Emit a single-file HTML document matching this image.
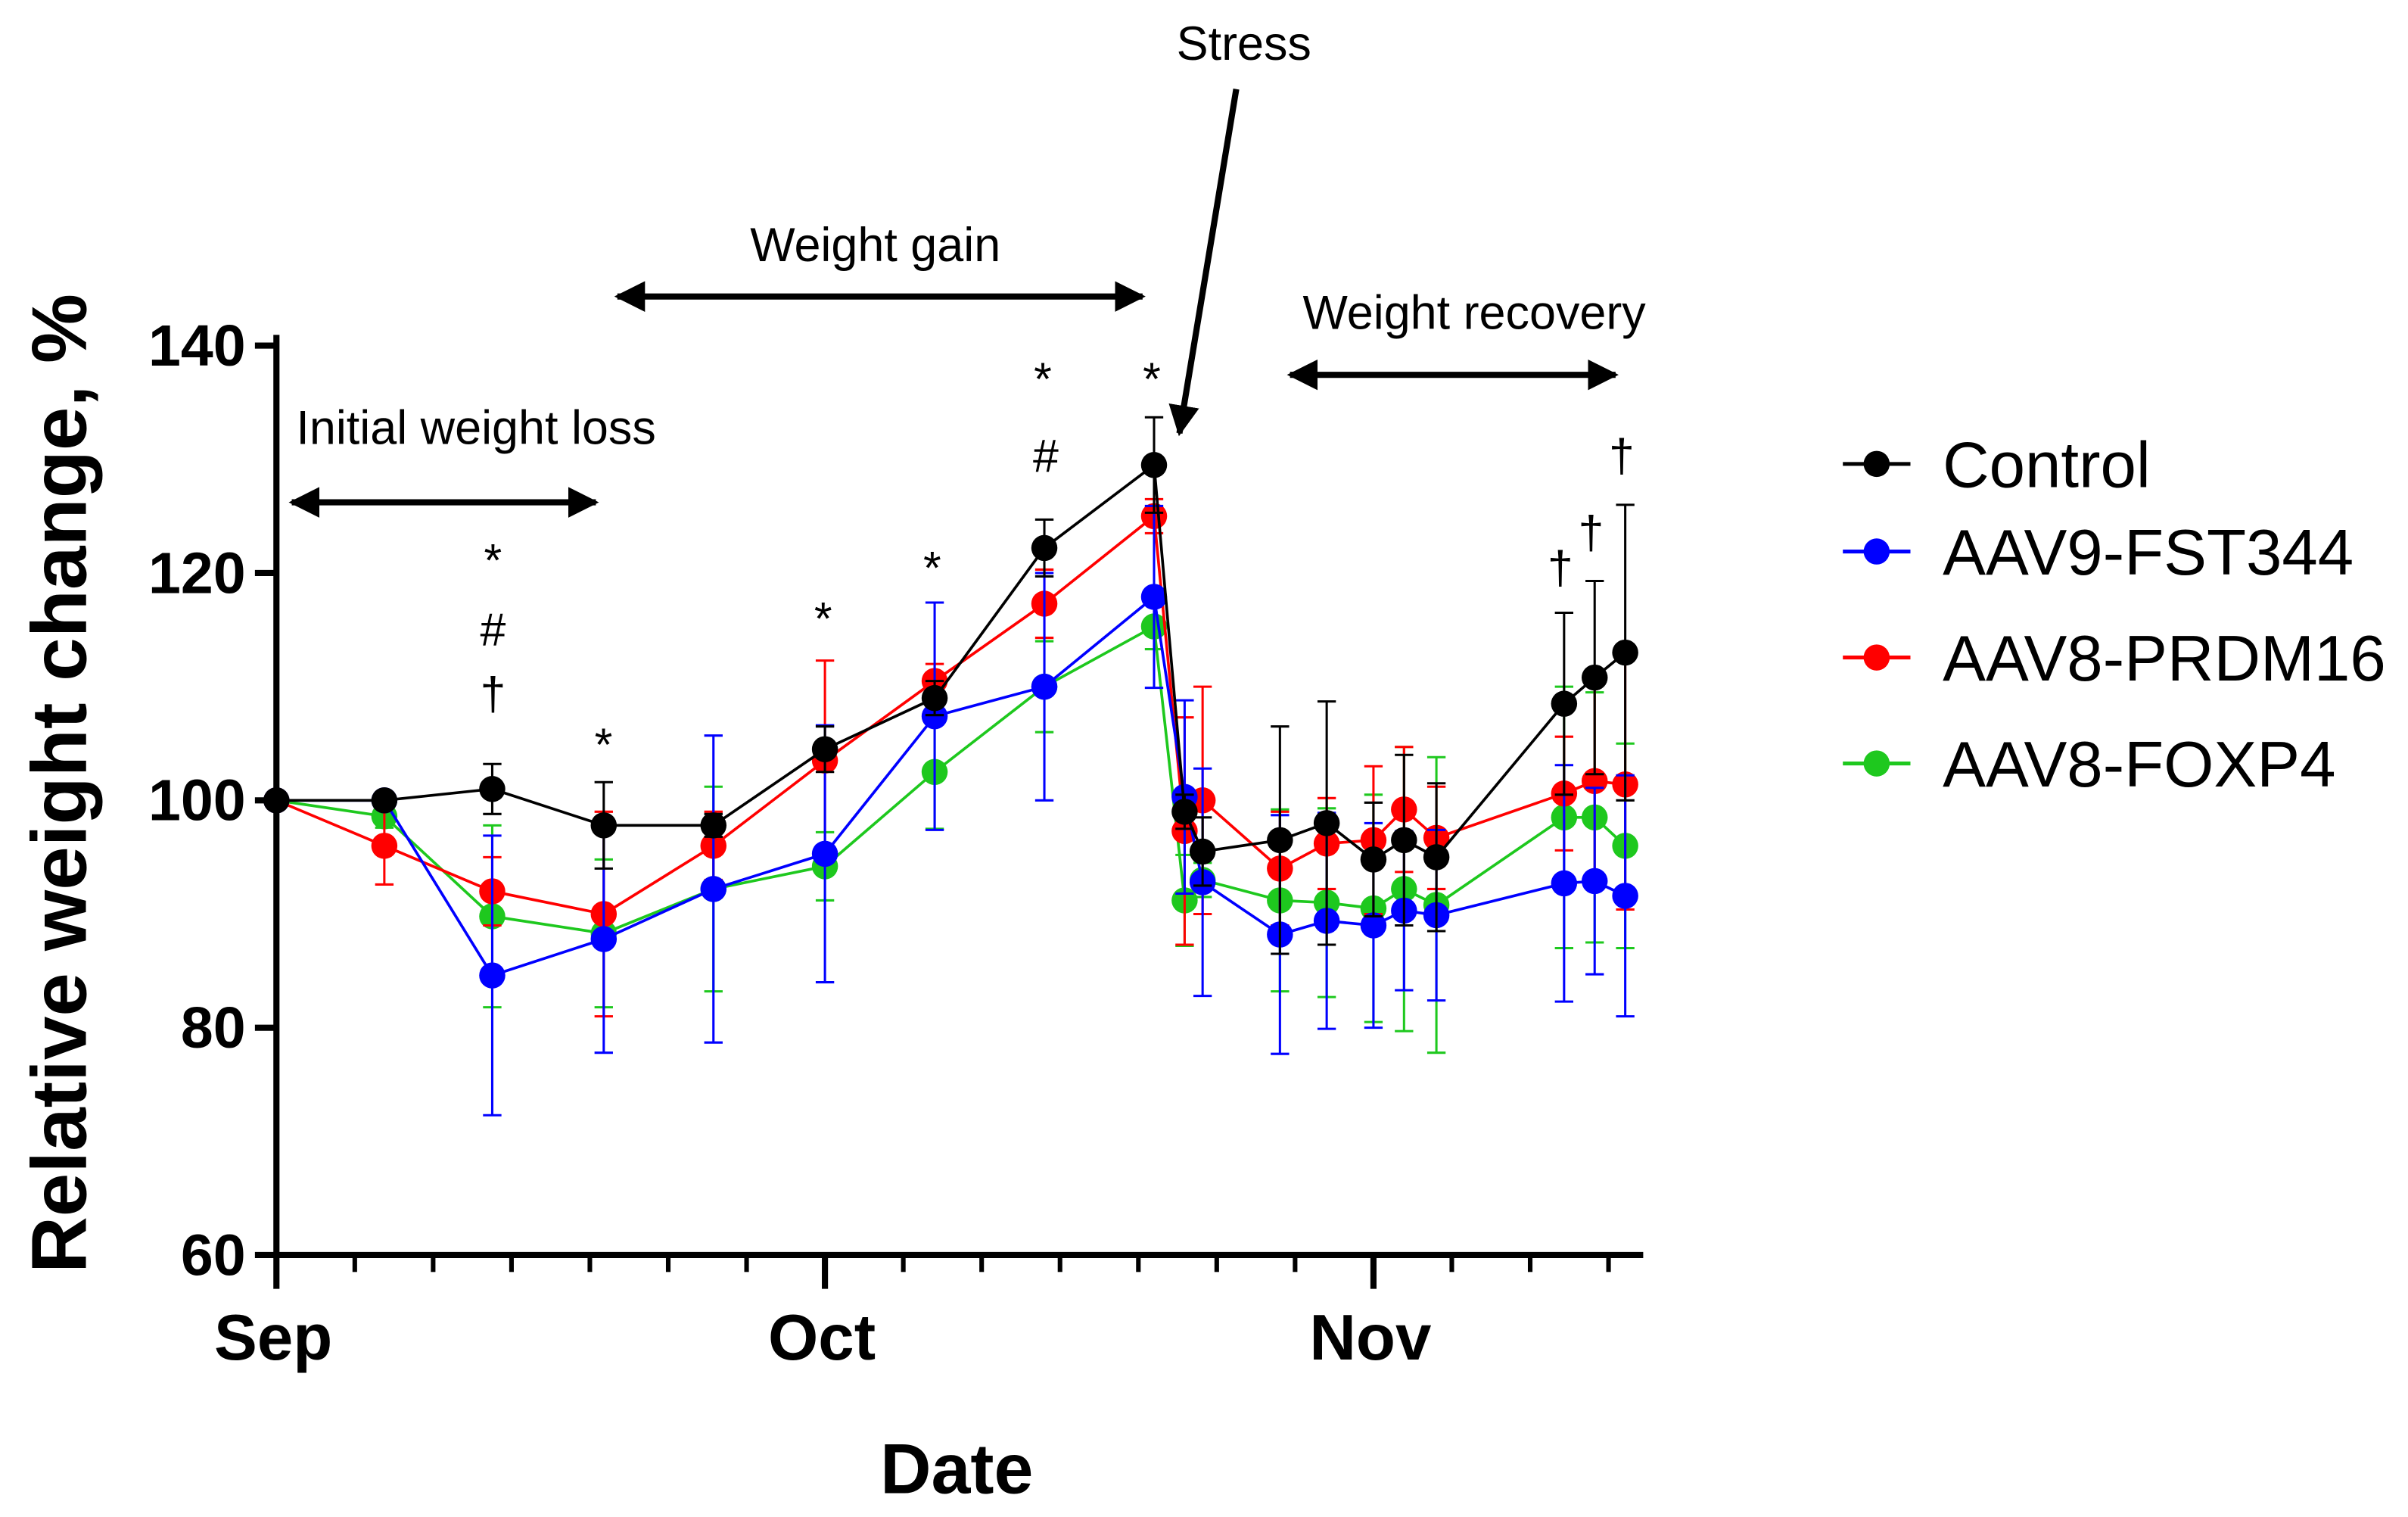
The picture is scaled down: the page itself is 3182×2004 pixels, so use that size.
<!DOCTYPE html>
<html><head><meta charset="utf-8"><style>
html,body{margin:0;padding:0;background:#fff}
svg{display:block}
text{font-family:"Liberation Sans",Arial,sans-serif}
</style></head><body>
<svg id="chart" width="3182" height="2004" viewBox="0 0 1568 987.5" preserveAspectRatio="none" xmlns="http://www.w3.org/2000/svg">
<defs>
<marker id="ah" viewBox="0 0 10 10" refX="9" refY="5" markerWidth="5" markerHeight="5" orient="auto-start-reverse"><path d="M0,0 L10,5 L0,10 z" fill="#000"/></marker>
</defs>
<g id="plot"></g>
<g id="axes"></g>
<text x="0" y="0" transform="translate(56,510) rotate(-90)" text-anchor="middle" font-size="51" font-weight="bold">Relative weight change, %</text>
<text x="623" y="972" text-anchor="middle" font-size="46" font-weight="bold">Date</text>
<g>
<text x="310" y="289" text-anchor="middle" font-size="31">Initial weight loss</text>
<line x1="190" y1="327" x2="388" y2="327" stroke="#000" stroke-width="4" marker-start="url(#ah)" marker-end="url(#ah)"/>
<text x="570" y="170" text-anchor="middle" font-size="31">Weight gain</text>
<line x1="402" y1="193" x2="744" y2="193" stroke="#000" stroke-width="4" marker-start="url(#ah)" marker-end="url(#ah)"/>
<text x="960" y="214" text-anchor="middle" font-size="31">Weight recovery</text>
<line x1="840" y1="244" x2="1052" y2="244" stroke="#000" stroke-width="4" marker-start="url(#ah)" marker-end="url(#ah)"/>
<text x="810" y="39" text-anchor="middle" font-size="31">Stress</text>
<line x1="805" y1="58" x2="768" y2="282" stroke="#000" stroke-width="4" marker-end="url(#ah)"/>
<g font-size="30" text-anchor="middle">
<text x="321" y="375">*</text><text x="321" y="420">#</text><text x="321" y="462">†</text>
<text x="393" y="495">*</text>
<text x="536" y="413">*</text>
<text x="607" y="380">*</text>
<text x="679" y="257">*</text><text x="681" y="307">#</text>
<text x="750" y="257">*</text>
<text x="1016" y="380">†</text>
<text x="1036" y="357">†</text>
<text x="1056" y="307">†</text>
</g>
</g>
<g id="legend"></g>
</svg>
<script>
const days=[0,6,12,18.2,24.3,30.5,36.6,42.7,48.8,50.5,51.5,55.8,58.4,61,62.7,64.5,71.6,73.3,75];
const seriesNames=["AAV8-FOXP4","AAV8-PRDM16","AAV9-FST344","Control"];
const seriesColors=["#1ec81e","#ff0000","#0000ff","#000000"];
const foxp4=[100,98.6,89.8,88.3,92.2,94.2,102.5,110,115.3,91.2,93,91.2,91,90.5,92.2,90.8,98.5,98.5,96];
const foxp4Err=[0,1,8,6.5,9,3,5,4,2,4,1.5,8,8.3,10,12.5,13,11.5,11,9];
const prdm16=[100,96,92,90,96,103.5,110.5,117.3,125,97.3,100,94,96.2,96.5,99.2,96.7,100.6,101.7,101.4];
const prdm16Err=[0,3.4,3,9,3,8.8,1.5,3,1.5,10,10,5,4,6.5,5.5,4.5,5,9,11];
const fst344=[100,100,84.6,87.8,92.2,95.3,107.4,110,117.9,100.3,92.8,88.2,89.4,89,90.3,89.9,92.7,92.9,91.6];
const fst344Err=[0,0,12.3,10,13.5,11.3,10,10,8,8.5,10,10.5,9.5,9,7,7.5,10.4,8.2,10.6];
const control=[100,100,101,97.8,97.8,104.5,109,122.2,129.5,99,95.5,96.5,98,94.8,96.5,95,108.5,110.8,113];
const controlErr=[0,0,2.2,3.8,1,2,1.5,2.5,4.2,1.5,3,10,10.7,5,7.5,6.5,8,8.5,13];
const yTicks=[60,80,100,120,140];
const monthLabels=["Sep","Oct","Nov"];
const monthDays=[0,30.5,61];
const legendOrder=["Control","AAV9-FST344","AAV8-PRDM16","AAV8-FOXP4"];

const NS="http://www.w3.org/2000/svg";
const X0=180,XPD=(1070-180)/76;
const x=d=>X0+d*XPD;
const y=v=>817-(v-60)*(817-225)/80;
function mk(tag,attrs,parent){const e=document.createElementNS(NS,tag);for(const k in attrs)e.setAttribute(k,attrs[k]);parent.appendChild(e);return e;}
const plot=document.getElementById('plot'),axes=document.getElementById('axes'),legend=document.getElementById('legend');
const vals=[foxp4,prdm16,fst344,control],errs=[foxp4Err,prdm16Err,fst344Err,controlErr];
vals.forEach((s,si)=>{
  const g=mk('g',{},plot);
  
  
  const c=seriesColors[si];
  s.forEach((v,i)=>{
    const e=errs[si][i];if(e<=0)return;
    const px=x(days[i]);
    const eb=mk('path',{d:`M${px},${y(v-e)}V${y(v+e)}M${px-6},${y(v-e)}H${px+6}M${px-6},${y(v+e)}H${px+6}`,stroke:c,'stroke-width':1.5,fill:'none'},g);
    
    
  });
  const ln=mk('polyline',{points:s.map((v,i)=>x(days[i])+','+y(v)).join(' '),stroke:c,'stroke-width':1.8,fill:'none'},g);
  
  
  s.forEach((v,i)=>{
    const p=mk('circle',{cx:x(days[i]),cy:y(v),r:8.5,fill:c},g);
    
    
  });
});
const ya=mk('line',{x1:X0,y1:218,x2:X0,y2:817,stroke:'#000','stroke-width':4},axes);


const xa=mk('line',{x1:X0-2,y1:817,x2:1070,y2:817,stroke:'#000','stroke-width':4},axes);


yTicks.forEach(t=>{
  mk('line',{x1:X0-14,y1:y(t),x2:X0,y2:y(t),stroke:'#000','stroke-width':4},axes);
  const tl=mk('text',{x:X0-20,y:y(t)+13,'text-anchor':'end','font-size':38,'font-weight':'bold'},axes);
  tl.textContent=t;
  
  
});
const step=30.5/7;
for(let d=0;d<=76;d+=step){
  const major=monthDays.some(m=>Math.abs(m-d)<0.01);
  mk('line',{x1:x(d),y1:817,x2:x(d),y2:817+(major?22:11),stroke:'#000','stroke-width':major?4:3},axes);
}
monthLabels.forEach((m,i)=>{
  const tl=mk('text',{x:x(monthDays[i])-2,y:885,'text-anchor':'middle','font-size':42,'font-weight':'bold'},axes);
  tl.textContent=m;
  
  
});
const legendY=[302,359,428,497];
legendOrder.forEach((n,i)=>{
  const si=seriesNames.indexOf(n);const c=seriesColors[si];const ly=legendY[i];
  const g=mk('g',{},legend);
  
  
  mk('line',{x1:1200,y1:ly,x2:1244,y2:ly,stroke:c,'stroke-width':2.5},g);
  mk('circle',{cx:1222,cy:ly,r:8.5,fill:c},g);
  const t=mk('text',{x:1265,y:ly+15,'font-size':42},g);t.textContent=n;
});
</script>
</body></html>
